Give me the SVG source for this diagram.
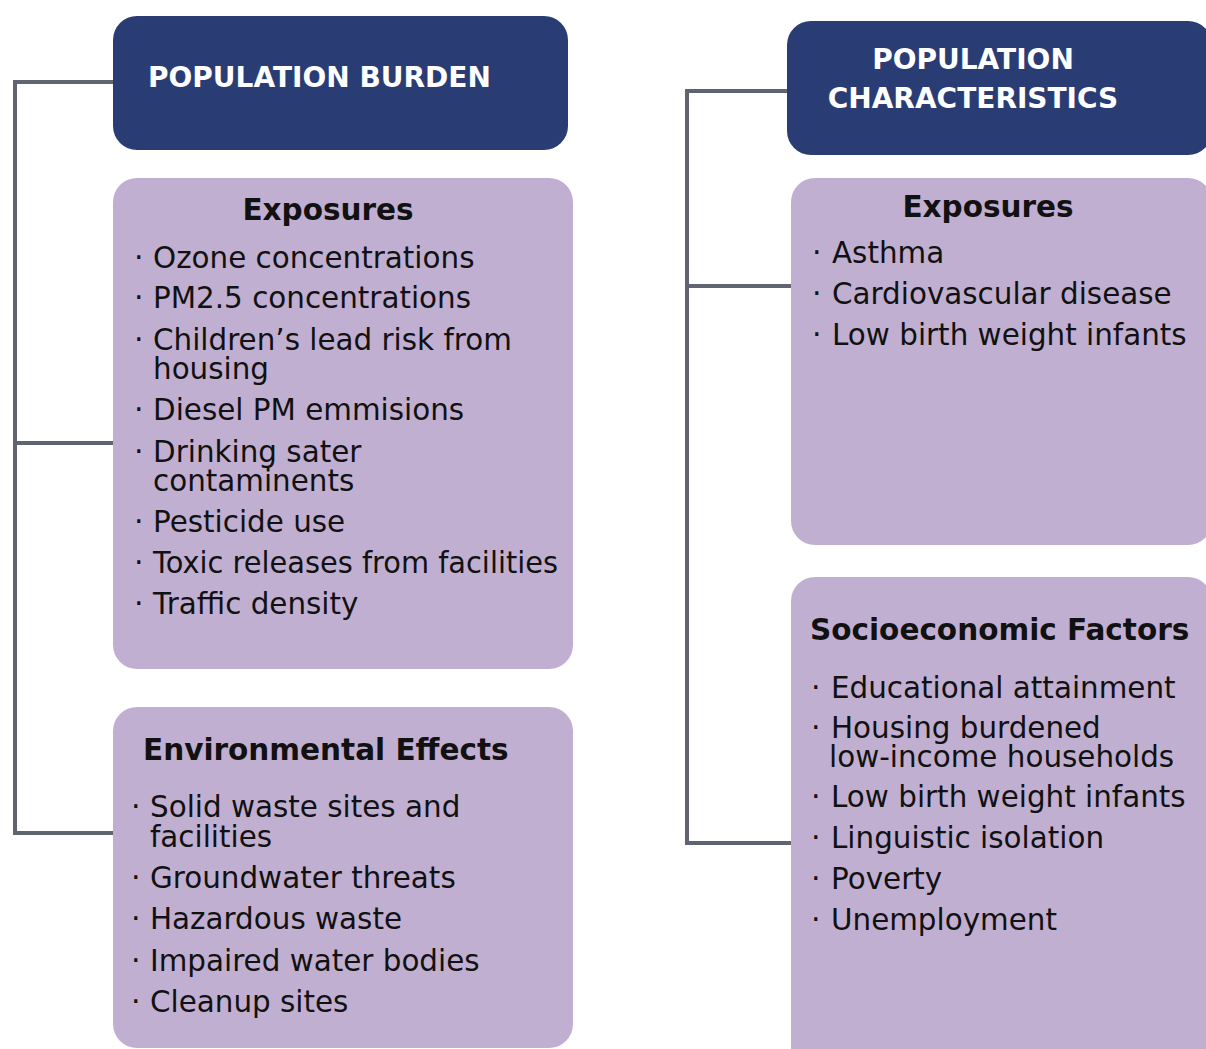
<svg xmlns="http://www.w3.org/2000/svg" width="1206" height="1049" viewBox="0 0 1206 1049">
  <style>
    .head { fill: #293d74; }
    .card { fill: #c1afd1; }
    .link { fill: none; stroke: #5f6470; stroke-width: 4; }
    .htxt { font-family: "DejaVu Sans", "Liberation Sans", sans-serif; font-size: 28px; font-weight: bold; fill: #ffffff; }
    .ttl { font-family: "DejaVu Sans", "Liberation Sans", sans-serif; font-size: 29.5px; font-weight: bold; fill: #111111; }
    .itm { font-family: "DejaVu Sans", "Liberation Sans", sans-serif; font-size: 29.4px; fill: #111111; }
    .dot { font-family: "DejaVu Sans", "Liberation Sans", sans-serif; font-size: 30px; fill: #111111; }
  </style>
  <rect width="1206" height="1049" fill="#ffffff"/>

  <!-- tree connectors -->
  <g id="connectors">
    <path class="link" d="M113 82 H15 V833 H113 M15 443 H113"/>
    <path class="link" d="M787 91 H687 V843 H791 M687 286 H791"/>
  </g>

  <!-- left column -->
  <g id="population-burden">
    <rect class="head" x="113" y="16" width="455" height="134" rx="24"/>
    <text class="htxt" x="148" y="87">POPULATION BURDEN</text>
  </g>

  <g id="burden-exposures">
    <rect class="card" x="113" y="178" width="460" height="491" rx="24"/>
    <text class="ttl" x="328" y="220" text-anchor="middle">Exposures</text>
    <g class="dot">
      <text x="134" y="268">·</text>
      <text x="134" y="308">·</text>
      <text x="134" y="350">·</text>
      <text x="134" y="420">·</text>
      <text x="134" y="462">·</text>
      <text x="134" y="532">·</text>
      <text x="134" y="573">·</text>
      <text x="134" y="614">·</text>
    </g>
    <g class="itm">
      <text x="153" y="268">Ozone concentrations</text>
      <text x="153" y="308">PM2.5 concentrations</text>
      <text x="153" y="350">Children’s lead risk from</text>
      <text x="153" y="379">housing</text>
      <text x="153" y="420">Diesel PM emmisions</text>
      <text x="153" y="462">Drinking sater</text>
      <text x="153" y="491">contaminents</text>
      <text x="153" y="532">Pesticide use</text>
      <text x="153" y="573" textLength="405" lengthAdjust="spacingAndGlyphs">Toxic releases from facilities</text>
      <text x="153" y="614">Traffic density</text>
    </g>
  </g>

  <g id="environmental-effects">
    <rect class="card" x="113" y="707" width="460" height="341" rx="24"/>
    <text class="ttl" x="143" y="760">Environmental Effects</text>
    <g class="dot">
      <text x="131" y="817">·</text>
      <text x="131" y="888">·</text>
      <text x="131" y="929">·</text>
      <text x="131" y="971">·</text>
      <text x="131" y="1012">·</text>
    </g>
    <g class="itm">
      <text x="150" y="817">Solid waste sites and</text>
      <text x="150" y="847">facilities</text>
      <text x="150" y="888">Groundwater threats</text>
      <text x="150" y="929">Hazardous waste</text>
      <text x="150" y="971">Impaired water bodies</text>
      <text x="150" y="1012">Cleanup sites</text>
    </g>
  </g>

  <!-- right column -->
  <g id="population-characteristics">
    <rect class="head" x="787" y="21" width="425" height="134" rx="24"/>
    <text class="htxt" x="973" y="69" text-anchor="middle">POPULATION</text>
    <text class="htxt" x="973" y="108" text-anchor="middle">CHARACTERISTICS</text>
  </g>

  <g id="characteristics-exposures">
    <rect class="card" x="791" y="178" width="421" height="367" rx="24"/>
    <text class="ttl" x="988" y="217" text-anchor="middle">Exposures</text>
    <g class="dot">
      <text x="812" y="263">·</text>
      <text x="812" y="304">·</text>
      <text x="812" y="345">·</text>
    </g>
    <g class="itm">
      <text x="832" y="263">Asthma</text>
      <text x="832" y="304">Cardiovascular disease</text>
      <text x="832" y="345">Low birth weight infants</text>
    </g>
  </g>

  <g id="socioeconomic-factors">
    <rect class="card" x="791" y="577" width="421" height="500" rx="24"/>
    <text class="ttl" x="810" y="640">Socioeconomic Factors</text>
    <g class="dot">
      <text x="811" y="698">·</text>
      <text x="811" y="738">·</text>
      <text x="811" y="807">·</text>
      <text x="811" y="848">·</text>
      <text x="811" y="889">·</text>
      <text x="811" y="930">·</text>
    </g>
    <g class="itm">
      <text x="831" y="698">Educational attainment</text>
      <text x="831" y="738">Housing burdened</text>
      <text x="829" y="767">low-income households</text>
      <text x="831" y="807">Low birth weight infants</text>
      <text x="831" y="848">Linguistic isolation</text>
      <text x="831" y="889">Poverty</text>
      <text x="831" y="930">Unemployment</text>
    </g>
  </g>
</svg>
